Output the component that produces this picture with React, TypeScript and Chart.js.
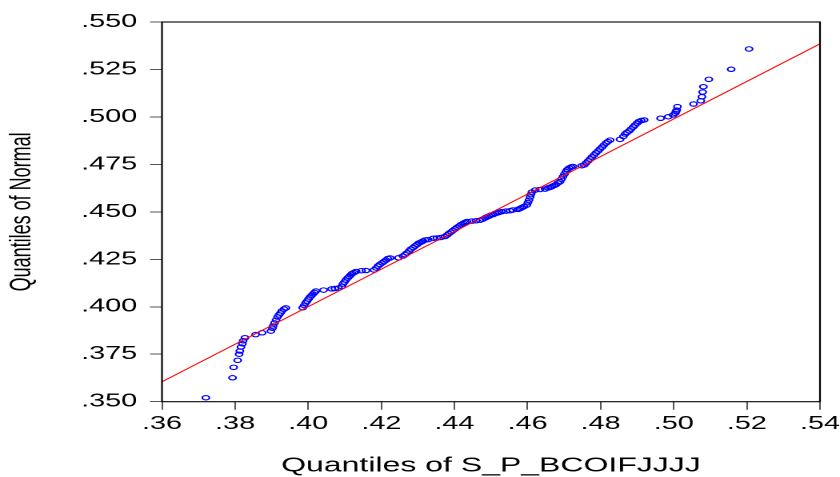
import React, { useEffect, useRef } from 'react';
import { Chart, registerables } from 'chart.js';

Chart.register(...registerables);

// Sorted sample quantiles (x) and matching normal quantiles (y)
const sampleQuantiles = [
  0.3720, 0.3793, 0.3796, 0.3807, 0.3811, 0.3813, 0.3816, 0.3820, 0.3822, 0.3827,
  0.3856, 0.3874, 0.3898, 0.3902,
  0.3904, 0.3908, 0.3912, 0.3916, 0.3920, 0.3924, 0.3928, 0.3934, 0.3939,
  0.3985, 0.3989, 0.3993, 0.3997, 0.4001, 0.4005, 0.4009, 0.4013, 0.4017, 0.4021,
  0.4042, 0.4064, 0.4073, 0.4083,
  0.4092, 0.4095, 0.4099, 0.4103, 0.4108, 0.4112, 0.4116, 0.4120, 0.4125, 0.4131,
  0.4146, 0.4158,
  0.4180, 0.4186, 0.4191, 0.4196, 0.4202, 0.4207, 0.4213, 0.4218, 0.4224,
  0.4247,
  0.4259, 0.4265, 0.4270, 0.4276, 0.4281, 0.4287, 0.4292, 0.4298, 0.4303, 0.4309, 0.4314, 0.4320, 0.4328,
  0.4342, 0.4352, 0.4363, 0.4374,
  0.4380, 0.4385, 0.4391, 0.4396, 0.4402, 0.4407, 0.4413, 0.4418, 0.4424, 0.4429, 0.4434,
  0.4447, 0.4459, 0.4470,
  0.4478, 0.4484, 0.4489, 0.4495, 0.4500, 0.4506, 0.4511, 0.4517, 0.4522, 0.4529,
  0.4541, 0.4552, 0.4560,
  0.4574, 0.4580, 0.4585, 0.4590, 0.4598,
  0.4601, 0.4604, 0.4607, 0.4609, 0.4612,
  0.4621, 0.4634, 0.4648,
  0.4656, 0.4662, 0.4667, 0.4673, 0.4678, 0.4683, 0.4689,
  0.4693, 0.4697, 0.4701, 0.4705, 0.4709, 0.4714, 0.4719, 0.4724,
  0.4748,
  0.4755, 0.4760, 0.4766, 0.4771, 0.4776, 0.4782, 0.4787, 0.4793, 0.4798, 0.4804, 0.4809, 0.4815, 0.4820, 0.4826,
  0.4853, 0.4862,
  0.4867, 0.4872, 0.4878, 0.4883, 0.4889, 0.4894, 0.4900, 0.4905, 0.4911, 0.4919,
  0.4964, 0.4985, 0.4998, 0.5004, 0.5006, 0.5008, 0.5010,
  0.5054, 0.5074, 0.5077, 0.5079, 0.5081, 0.5096, 0.5157, 0.5206,
];

const normalQuantiles = [
  0.3521, 0.3626, 0.3681, 0.3718, 0.3750, 0.3767, 0.3788, 0.3805, 0.3821, 0.3837,
  0.3853, 0.3863, 0.3872, 0.3887,
  0.3899, 0.3915, 0.3930, 0.3946, 0.3957, 0.3967, 0.3978, 0.3988, 0.3994,
  0.3995, 0.4007, 0.4020, 0.4030, 0.4041, 0.4051, 0.4059, 0.4067, 0.4075, 0.4083,
  0.4088, 0.4094, 0.4096, 0.4099,
  0.4107, 0.4120, 0.4130, 0.4141, 0.4152, 0.4159, 0.4167, 0.4175, 0.4180, 0.4186,
  0.4190, 0.4191,
  0.4194, 0.4204, 0.4215, 0.4223, 0.4231, 0.4238, 0.4246, 0.4254, 0.4257,
  0.4258,
  0.4267, 0.4275, 0.4283, 0.4294, 0.4304, 0.4312, 0.4320, 0.4328, 0.4336, 0.4341, 0.4346, 0.4352, 0.4354,
  0.4361, 0.4362, 0.4365, 0.4370,
  0.4378, 0.4386, 0.4394, 0.4402, 0.4410, 0.4418, 0.4425, 0.4433, 0.4439, 0.4444, 0.4449,
  0.4451, 0.4453, 0.4456,
  0.4462, 0.4468, 0.4473, 0.4478, 0.4483, 0.4486, 0.4491, 0.4494, 0.4497, 0.4501,
  0.4504, 0.4506, 0.4510,
  0.4513, 0.4518, 0.4523, 0.4528, 0.4536,
  0.4549, 0.4562, 0.4578, 0.4591, 0.4604,
  0.4615, 0.4618, 0.4620,
  0.4626, 0.4629, 0.4634, 0.4639, 0.4644, 0.4652, 0.4659,
  0.4673, 0.4686, 0.4699, 0.4712, 0.4723, 0.4731, 0.4736, 0.4739,
  0.4743,
  0.4747, 0.4757, 0.4768, 0.4778, 0.4789, 0.4799, 0.4810, 0.4820, 0.4831, 0.4841, 0.4852, 0.4863, 0.4870, 0.4878,
  0.4882, 0.4897,
  0.4910, 0.4918, 0.4926, 0.4936, 0.4947, 0.4957, 0.4968, 0.4976, 0.4981, 0.4984,
  0.4993, 0.5001, 0.5010, 0.5019, 0.5028, 0.5036, 0.5054,
  0.5068, 0.5085, 0.5106, 0.5131, 0.5159, 0.5198, 0.5251, 0.5358,
];

const refLineX = [0.36, 0.54];
const refLineY = [0.3605, 0.5385];

const xTickValues = [0.36, 0.38, 0.40, 0.42, 0.44, 0.46, 0.48, 0.50, 0.52, 0.54];
const xTickLabels = ['.36', '.38', '.40', '.42', '.44', '.46', '.48', '.50', '.52', '.54'];
const yTickValues = [0.35, 0.375, 0.40, 0.425, 0.45, 0.475, 0.50, 0.525, 0.55];
const yTickLabels = ['.350', '.375', '.400', '.425', '.450', '.475', '.500', '.525', '.550'];

const xTitle = 'Quantiles of S_P_BCOIFJJJJ';
const yTitle = 'Quantiles of Normal';

const PAGE_W = 840;
const PAGE_H = 477;
const STRETCH = 1.6;
const CANVAS_W = PAGE_W / STRETCH;
const AREA_LEFT = 162 / STRETCH;
const AREA_RIGHT = 820 / STRETCH;
const AREA_TOP = 22;
const AREA_BOTTOM = 401.7;
const FONT = '"Liberation Sans", Arial, sans-serif';

const framePlugin = {
  id: 'frame',
  afterDatasetsDraw(chart: any) {
    const { ctx, chartArea } = chart;
    const { left, top, right, bottom } = chartArea;
    ctx.save();
    ctx.strokeStyle = '#000000';
    ctx.lineWidth = 1.1;
    ctx.strokeRect(left, top, right - left, bottom - top);
    ctx.restore();
  },
};

export default function App() {
  const canvasRef = useRef<HTMLCanvasElement | null>(null);

  useEffect(() => {
    const canvas = canvasRef.current;
    if (!canvas) return;
    const points = sampleQuantiles.map((x, i) => ({ x, y: normalQuantiles[i] }));
    const line = refLineX.map((x, i) => ({ x, y: refLineY[i] }));

    const chart = new Chart(canvas, {
      type: 'scatter',
      data: {
        datasets: [
          {
            type: 'line',
            data: line,
            borderColor: '#FF0000',
            borderWidth: 1,
            pointRadius: 0,
            fill: false,
            order: 0,
          } as any,
          {
            type: 'scatter',
            data: points,
            pointStyle: 'circle',
            pointRadius: 2.2,
            pointBorderWidth: 1.1,
            pointBorderColor: '#0000FF',
            pointBackgroundColor: 'rgba(0,0,0,0)',
            borderColor: '#0000FF',
            backgroundColor: 'rgba(0,0,0,0)',
            order: 1,
          } as any,
        ],
      },
      options: {
        responsive: false,
        animation: false,
        devicePixelRatio: 2,
        layout: {
          padding: { top: AREA_TOP, right: CANVAS_W - AREA_RIGHT, bottom: 0, left: 0 },
        },
        plugins: {
          legend: { display: false },
          tooltip: { enabled: false },
        },
        scales: {
          x: {
            type: 'linear',
            min: 0.36,
            max: 0.54,
            afterBuildTicks: (scale: any) => {
              scale.ticks = xTickValues.map((v) => ({ value: v }));
            },
            afterFit: (scale: any) => {
              scale.height = PAGE_H - AREA_BOTTOM;
              scale.paddingLeft = 0;
              scale.paddingRight = 0;
            },
            border: { display: false },
            grid: {
              drawOnChartArea: false,
              drawTicks: true,
              tickLength: 8,
              color: '#555555',
              lineWidth: 1,
            },
            ticks: {
              autoSkip: false,
              maxRotation: 0,
              padding: 3.5,
              color: '#000000',
              font: { family: FONT, size: 18 },
              callback: (_v: any, i: number) => xTickLabels[i],
            },
            title: {
              display: true,
              text: xTitle,
              color: '#000000',
              font: { family: FONT, size: 20, lineHeight: 1.1 },
              padding: { top: 0, bottom: 0 },
            },
          },
          y: {
            type: 'linear',
            min: 0.35,
            max: 0.55,
            afterBuildTicks: (scale: any) => {
              scale.ticks = yTickValues.map((v) => ({ value: v }));
            },
            afterFit: (scale: any) => {
              scale.width = AREA_LEFT;
              scale.paddingTop = 0;
              scale.paddingBottom = 0;
            },
            border: { display: false },
            grid: {
              drawOnChartArea: false,
              drawTicks: true,
              tickLength: 7.5,
              color: '#555555',
              lineWidth: 1,
            },
            ticks: {
              autoSkip: false,
              padding: 8,
              color: '#000000',
              font: { family: FONT, size: 18 },
              callback: (_v: any, i: number) => yTickLabels[i],
            },
            title: {
              display: true,
              text: yTitle,
              color: '#000000',
              font: { family: FONT, size: 18, lineHeight: 1.2 },
              padding: { top: 3, bottom: 0 },
            },
          },
        },
      },
      plugins: [framePlugin],
    });

    return () => {
      chart.destroy();
    };
  }, []);

  return (
    <div
      style={{
        position: 'fixed',
        left: 0,
        top: 0,
        width: PAGE_W,
        height: PAGE_H,
        overflow: 'hidden',
        background: '#ffffff',
      }}
    >
      <canvas
        ref={canvasRef}
        width={CANVAS_W}
        height={PAGE_H}
        style={{
          width: CANVAS_W,
          height: PAGE_H,
          transform: `scaleX(${STRETCH})`,
          transformOrigin: '0 0',
          display: 'block',
        }}
      />
    </div>
  );
}
